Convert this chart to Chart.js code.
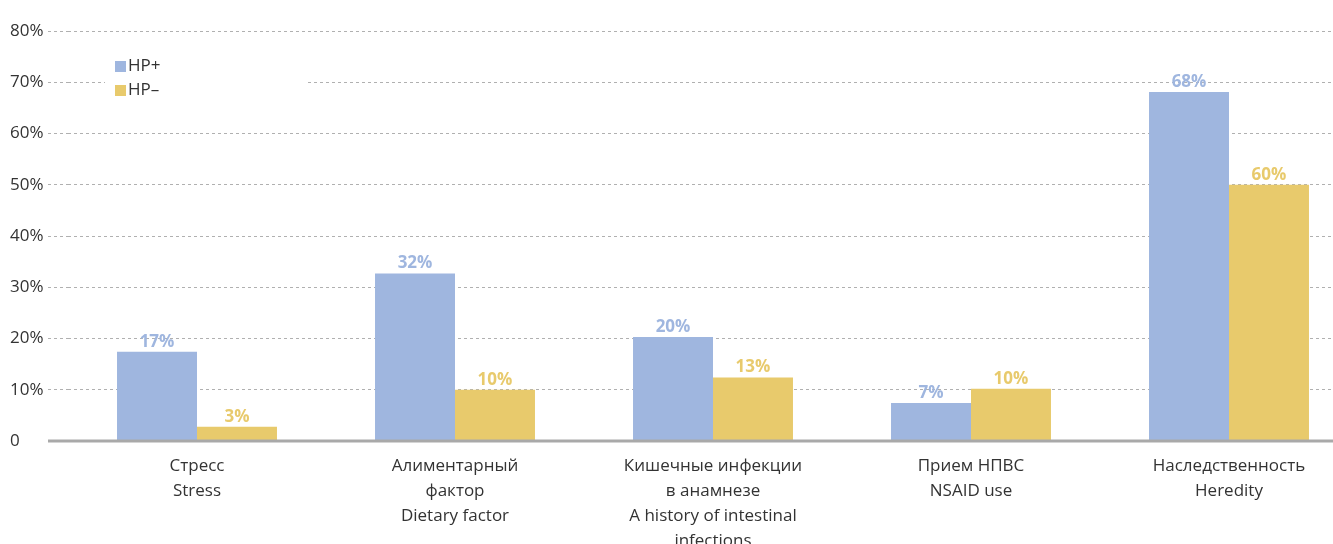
<!DOCTYPE html>
<html>
<head>
<meta charset="utf-8">
<script src="https://cdn.jsdelivr.net/npm/chart.js@4"></script>
<style>
  html, body { margin: 0; padding: 0; background: #fff; overflow: hidden; }
  #wrap { width: 1358px; height: 559px; }
</style>
</head>
<body>
<div id="wrap"><canvas id="bars"></canvas></div>
<script>
const categories = [
  ["Стресс", "Stress"],
  ["Алиментарный", "фактор", "Dietary factor"],
  ["Кишечные инфекции", "в анамнезе", "A history of intestinal", "infections"],
  ["Прием НПВС", "NSAID use"],
  ["Наследственность", "Heredity"]
];
const hpPlus = [17.4, 32.7, 20.3, 7.4, 68.1];
const hpMinus = [2.8, 10, 12.4, 10.2, 50];
const hpPlusLabels = ["17%", "32%", "20%", "7%", "68%"];
const hpMinusLabels = ["3%", "10%", "13%", "10%", "60%"];
const yTicks = [0, 10, 20, 30, 40, 50, 60, 70, 80];

const blue = "#9fb6df";
const yellow = "#e8ca6c";
const font = "'Open Sans'";

// value labels above bars, baseline and legend box
const extras = {
  id: "extras",
  afterDatasetsDraw(chart) {
    const ctx = chart.ctx;
    const labels = [hpPlusLabels, hpMinusLabels];
    ctx.save();
    ctx.font = "bold 17px " + font;
    ctx.textAlign = "center";
    ctx.textBaseline = "alphabetic";
    chart.data.datasets.forEach((ds, i) => {
      chart.getDatasetMeta(i).data.forEach((bar, j) => {
        ctx.fillStyle = ds.backgroundColor;
        ctx.fillText(labels[i][j], bar.x, bar.y - 5);
      });
    });
    // baseline
    const y0 = chart.scales.y.getPixelForValue(0);
    ctx.strokeStyle = "#a9a9a9";
    ctx.lineWidth = 3;
    ctx.beginPath();
    ctx.moveTo(48, y0);
    ctx.lineTo(chart.width, y0);
    ctx.stroke();
    // legend
    ctx.fillStyle = "#fff";
    ctx.fillRect(105, 52, 200, 48);
    ctx.font = "17px " + font;
    ctx.textAlign = "left";
    ctx.textBaseline = "middle";
    chart.data.datasets.forEach((ds, i) => {
      const ly = 66 + i * 24;
      ctx.fillStyle = ds.backgroundColor;
      ctx.fillRect(115, ly - 5, 11, 11);
      ctx.fillStyle = "#333";
      ctx.fillText(ds.label, 128, ly);
    });
    ctx.restore();
  }
};

new Chart(document.getElementById("bars").getContext("2d"), {
  type: "bar",
  data: {
    labels: categories,
    datasets: [
      { label: "HP+", data: hpPlus, backgroundColor: blue },
      { label: "HP–", data: hpMinus, backgroundColor: yellow }
    ]
  },
  options: {
    responsive: true,
    maintainAspectRatio: false,
    animation: false,
    layout: { padding: { top: 31, right: 0, bottom: 0, left: 10 } },
    datasets: { bar: { categoryPercentage: 0.62, barPercentage: 1 } },
    plugins: { legend: { display: false }, tooltip: { enabled: false } },
    scales: {
      x: {
        grid: { display: false },
        border: { display: false },
        ticks: {
          color: "#333",
          padding: 5,
          maxRotation: 0,
          autoSkip: false,
          font: { family: "Open Sans", size: 17, lineHeight: 1.47 }
        }
      },
      y: {
        min: 0,
        max: 80,
        afterBuildTicks(scale) {
          scale.ticks = yTicks.map(v => ({ value: v }));
        },
        afterFit(scale) {
          scale.width = 58;
        },
        grid: {
          color: "#b0b0b0",
          lineWidth: 1,
          tickLength: 20,
          tickColor: "#b0b0b0",
          tickBorderDash: [3, 3]
        },
        border: { display: false, dash: [3, 3] },
        ticks: {
          color: "#333",
          padding: 3,
          crossAlign: "far",
          font: { family: "Open Sans", size: 17 },
          callback: v => (v === 0 ? "0" : v + "%")
        }
      }
    }
  },
  plugins: [extras]
});
</script>
</body>
</html>
